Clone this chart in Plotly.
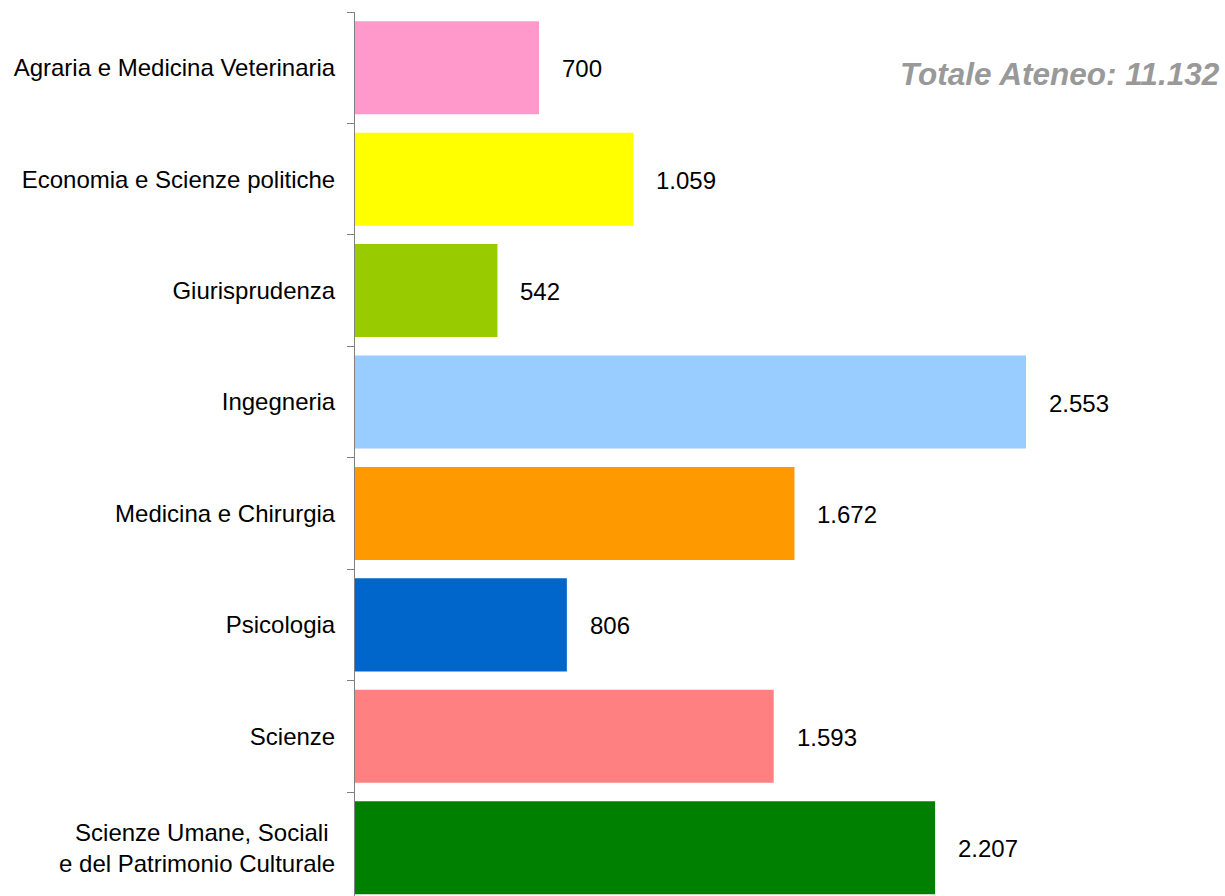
import plotly.graph_objects as go

categories = [
    "Agraria e Medicina Veterinaria",
    "Economia e Scienze politiche",
    "Giurisprudenza",
    "Ingegneria",
    "Medicina e Chirurgia",
    "Psicologia",
    "Scienze",
    "Scienze Umane, Sociali\u00a0<br>e del Patrimonio Culturale",
]
values = [700, 1059, 542, 2553, 1672, 806, 1593, 2207]
value_labels = ["700", "1.059", "542", "2.553", "1.672", "806", "1.593", "2.207"]
colors = ["#FF99CC", "#FFFF00", "#99CC00", "#99CCFF", "#FF9900", "#0066CC", "#FF8080", "#008000"]
total_label = "Totale Ateneo: 11.132"

FONT = "Liberation Sans, Arial, sans-serif"

fig = go.Figure(
    go.Bar(
        y=categories,
        x=values,
        orientation="h",
        marker=dict(color=colors, line=dict(width=0)),
        hoverinfo="skip",
    )
)

for cat, v, lab in zip(categories, values, value_labels):
    fig.add_annotation(
        x=v, y=cat, text=lab, showarrow=False,
        xanchor="left", yanchor="middle", xshift=21, yshift=-1,
        font=dict(family=FONT, size=24, color="#000000"),
    )

fig.add_annotation(
    xref="paper", yref="paper", x=1, y=(896 - 74) / 884,
    text=f"<b><i>{total_label}</i></b>", showarrow=False,
    xanchor="right", yanchor="middle", xshift=-3,
    font=dict(family=FONT, size=31.5, color="#999999"),
)

fig.update_layout(
    width=1225, height=896,
    margin=dict(l=355, r=0, t=12, b=0),
    paper_bgcolor="white", plot_bgcolor="white",
    bargap=0.165,
    showlegend=False,
    font=dict(family=FONT, size=24, color="#000000"),
    xaxis=dict(visible=False, range=[0, 3310]),
    yaxis=dict(
        type="category",
        range=[7.433, -0.5],
        showline=True, linecolor="#808080", linewidth=1,
        ticks="outside", ticklen=7, tickcolor="#808080", tickwidth=1,
        tickson="boundaries",
        ticklabelstandoff=14,
        showgrid=False, zeroline=False,
        tickfont=dict(family=FONT, size=24, color="#000000"),
    ),
)

fig.write_html(
    "out.html",
    config={"displayModeBar": False},
    post_script="document.body.style.margin='0';document.body.style.overflow='hidden';",
)
